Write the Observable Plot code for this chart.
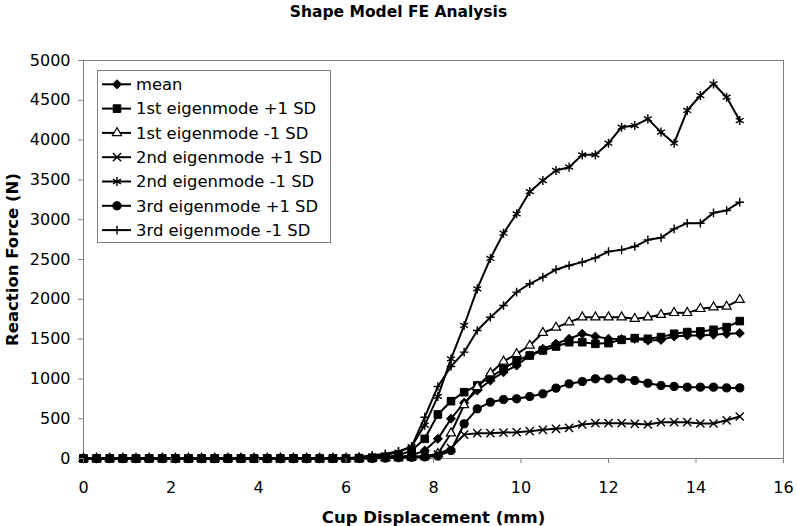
<!DOCTYPE html>
<html><head><meta charset="utf-8">
<script src="https://cdn.jsdelivr.net/npm/d3@7"></script>
<script src="https://cdn.jsdelivr.net/npm/@observablehq/plot@0.6"></script>
<style>
body{margin:0;background:#fff;}
#wrap{position:relative;width:797px;height:526px;font-family:"DejaVu Sans",sans-serif;background:#fff;}
#title{position:absolute;left:0;top:3px;width:797px;text-align:center;font-weight:bold;font-size:15.5px;line-height:18px;}
#chart{position:absolute;left:0;top:40px;}
#legend{position:absolute;left:97px;top:70px;overflow:visible;}
g[aria-label="x-axis label"] text, g[aria-label="y-axis label"] text{font-weight:bold;font-size:16.5px;}
</style></head><body>
<div id="wrap"><div id="title">Shape Model FE Analysis</div><div id="chart"></div><svg id="legend" width="234" height="173"></svg></div>
<script>
// Cup displacement (mm)
const xs = [0,0.3,0.6,0.9,1.2,1.5,1.8,2.1,2.4,2.7,3.0,3.3,3.6,3.9,4.2,4.5,4.8,5.1,5.4,5.7,
  6.0,6.3,6.6,6.9,7.2,7.5,7.8,8.1,8.4,8.7,9.0,9.3,9.6,9.9,10.2,10.5,10.8,11.1,11.4,11.7,
  12.0,12.3,12.6,12.9,13.2,13.5,13.8,14.1,14.4,14.7,15.0];
const zeros20 = [0,0,0,0,0,0,0,0,0,0,0,0,0,0,0,0,0,0,0,0];
// Reaction force (N)
const mean = zeros20.concat([0,5,10,15,20,40,100,247,500,700,854,980,1084,1168,1294,1378,1441,1504,1567,1533,1504,1500,1504,1483,1490,1533,1545,1545,1555,1567,1575]);
const mode1plus = zeros20.concat([0,5,10,20,40,100,247,553,720,833,917,1021,1127,1231,1294,1357,1407,1461,1461,1441,1450,1491,1512,1504,1525,1567,1588,1596,1617,1650,1726]);
const mode1minus = zeros20.concat([0,0,5,10,15,20,30,60,318,672,900,1070,1220,1312,1420,1580,1645,1713,1775,1775,1775,1775,1755,1775,1805,1830,1830,1880,1901,1910,1994]);
const mode2plus = zeros20.concat([0,0,5,10,15,20,30,50,130,300,318,318,326,331,343,360,373,385,427,444,444,444,436,427,456,456,456,440,440,480,528]);
const mode2minus = zeros20.concat([0,10,25,45,80,150,420,780,1252,1671,2131,2513,2830,3074,3352,3492,3618,3660,3815,3815,3961,4162,4183,4267,4100,3961,4372,4560,4707,4539,4246]);
const mode3plus = zeros20.concat([0,0,0,5,10,15,20,30,100,436,624,707,741,750,779,813,884,938,967,1001,1001,1001,980,946,917,905,896,896,896,887,887]);
const mode3minus = zeros20.concat([0,20,40,60,90,150,519,905,1156,1336,1608,1775,1922,2090,2195,2278,2374,2425,2467,2521,2600,2621,2663,2747,2772,2885,2956,2956,3086,3116,3220]);

const seriesNames = ["mean","1st eigenmode +1 SD","1st eigenmode -1 SD","2nd eigenmode +1 SD","2nd eigenmode -1 SD","3rd eigenmode +1 SD","3rd eigenmode -1 SD"];
const seriesValues = [mean, mode1plus, mode1minus, mode2plus, mode2minus, mode3plus, mode3minus];
const xTicks = [0,2,4,6,8,10,12,14,16];
const yTicks = [0,500,1000,1500,2000,2500,3000,3500,4000,4500,5000];

// marker styles
const styles = [
  {symbol:"diamond2", r:4.1, fill:"black", stroke:"black", sw:1},
  {symbol:"square", r:4.3, fill:"black", stroke:"black", sw:1},
  {symbol:"triangle", r:3.4, fill:"white", stroke:"black", sw:1.2},
  {symbol:"times", r:3.8, fill:"none", stroke:"black", sw:1.4},
  {symbol:"asterisk", r:4.3, fill:"none", stroke:"black", sw:1.4},
  {symbol:"circle", r:4.1, fill:"black", stroke:"black", sw:1},
  {symbol:"plus", r:2.9, fill:"none", stroke:"black", sw:1.4}
];

const marks = [Plot.frame({stroke:"#808080"})];
seriesNames.forEach((name, k) => {
  const rows = xs.map((x, i) => ({x, y: seriesValues[k][i], s: name}));
  const st = styles[k];
  marks.push(Plot.line(rows, {x:"x", y:"y", stroke:"black", strokeWidth:2}));
  marks.push(Plot.dot(rows, {x:"x", y:"y", symbol:()=>st.symbol, r:st.r, fill:st.fill, stroke:st.stroke, strokeWidth:st.sw}));
});
marks.push(Plot.axisX({ticks:xTicks, tickSize:5, tickPadding:18, stroke:"#808080", fill:"black", tickFormat:d=>String(d), label:"Cup Displacement (mm)", labelAnchor:"center", labelOffset:64, labelArrow:"none"}));
marks.push(Plot.axisY({ticks:yTicks, tickSize:5, tickPadding:8, stroke:"#808080", fill:"black", tickFormat:d=>String(d), label:"Reaction Force (N)", labelAnchor:"center", labelOffset:77, labelArrow:"none"}));

const chart = Plot.plot({
  width:797, height:486,
  marginLeft:83, marginRight:14, marginTop:20, marginBottom:68,
  style:{fontFamily:"DejaVu Sans", fontSize:"16px", color:"black", background:"white", overflow:"visible"},
  x:{domain:[0,16]},
  y:{domain:[0,5000]},
  symbol:{type:"identity"},
  marks
});
document.getElementById("chart").appendChild(chart);

// legend
const lg = d3.select("#legend");
lg.append("rect").attr("x",0.5).attr("y",0.5).attr("width",233).attr("height",172).attr("fill","white").attr("stroke","#808080");
const symMap = {diamond2:d3.symbolDiamond2, square:d3.symbolSquare, triangle:d3.symbolTriangle, times:d3.symbolTimes, asterisk:d3.symbolAsterisk, circle:d3.symbolCircle, plus:d3.symbolPlus};
seriesNames.forEach((name, k) => {
  const y = 14.3 + 24.3*k;
  const st = styles[k];
  lg.append("line").attr("x1",5).attr("x2",34).attr("y1",y).attr("y2",y).attr("stroke","black").attr("stroke-width",2);
  lg.append("path").attr("transform",`translate(20,${y})`).attr("d", d3.symbol(symMap[st.symbol], Math.PI*st.r*st.r)())
    .attr("fill",st.fill).attr("stroke",st.stroke).attr("stroke-width",st.sw);
  lg.append("text").attr("x",39).attr("y",y).attr("dy","0.35em").attr("font-size","16.4px").attr("font-family","DejaVu Sans").text(name);
});
</script></body></html>
